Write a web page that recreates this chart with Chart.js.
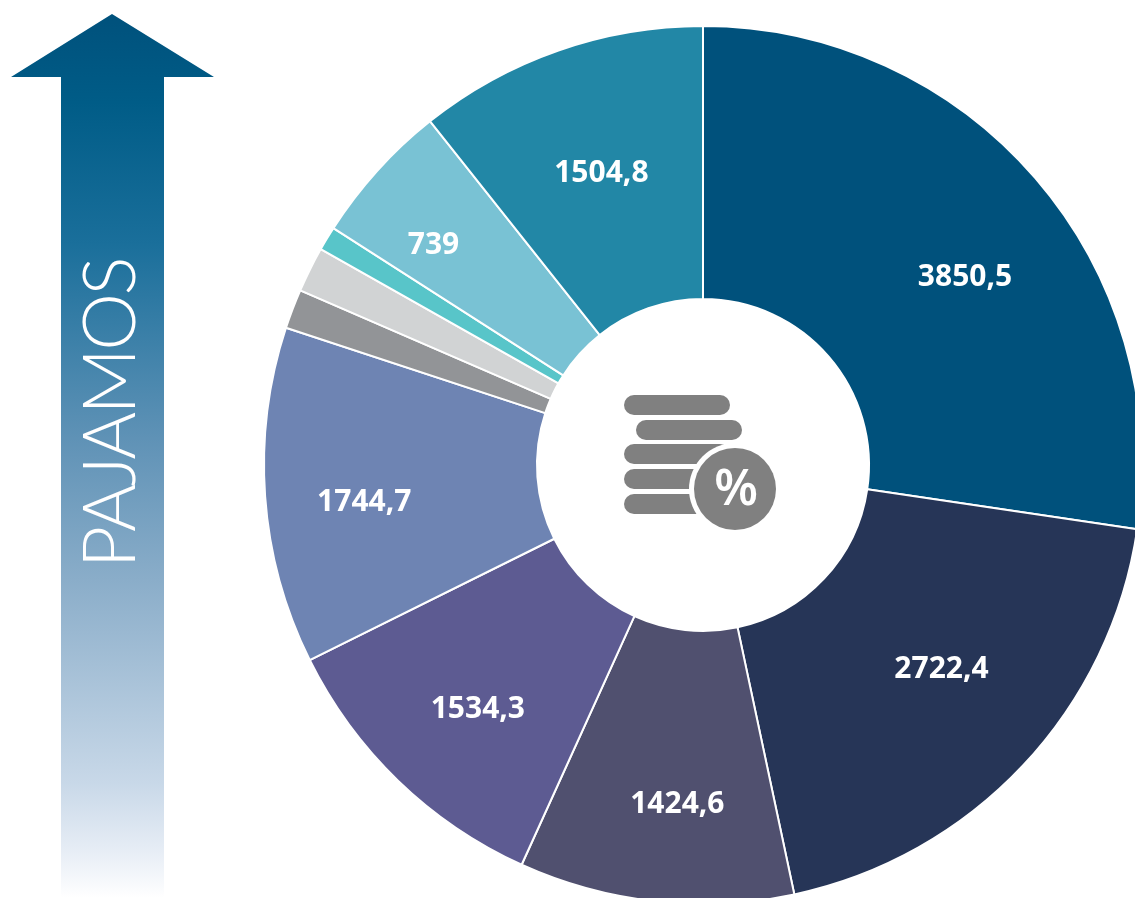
<!DOCTYPE html>
<html lang="lt">
<head>
<meta charset="utf-8">
<title>Pajamos</title>
<script src="https://cdn.jsdelivr.net/npm/chart.js@4/dist/chart.umd.min.js"></script>
<style>
  html, body { margin: 0; padding: 0; background: #fff; overflow: hidden; width: 1135px; height: 898px; }
  canvas { position: absolute; left: 0; top: 0; }
</style>
</head>
<body>
<!-- canvas is wider than the window on purpose: the ring is cut by the right and bottom edges -->
<canvas id="myChart" width="1406" height="930"></canvas>
<script>
const sliceNames = ['a', 'b', 'c', 'd', 'e', 'f', 'g', 'h', 'i', 'j'];
// the three unlabelled slices are estimated from their angle
const sliceValues = [3850.5, 2722.4, 1424.6, 1534.3, 1744.7, 205, 235, 125, 739, 1504.8];
const sliceLabels = ['3850,5', '2722,4', '1424,6', '1534,3', '1744,7', '', '', '', '739', '1504,8'];
const sliceColors = ['#00517c', '#263557', '#50506f', '#5d5b92', '#6e84b3', '#929497', '#d1d3d4', '#58c5c9', '#79c2d4', '#2287a6'];
// how far each label sits from the middle of its slice
const labelShiftX = [33, 18, 7, -15, -37, 0, 0, 0, -45, -2];
const labelShiftY = [10, -3, 39, 27, 16, 0, 0, 0, -17, -6];
const axisTitle = 'PAJAMOS';

// arrow on the left and its title
const arrowPlugin = {
  id: 'arrow',
  beforeDraw(chart) {
    const ctx = chart.ctx;
    const grad = ctx.createLinearGradient(0, 14, 0, 898);
    grad.addColorStop(0, '#00517c');
    grad.addColorStop(0.1, '#005c87');
    grad.addColorStop(0.26, '#1a6f9b');
    grad.addColorStop(0.48, '#5f92b6');
    grad.addColorStop(0.64, '#8aadc9');
    grad.addColorStop(0.87, '#c8d8e8');
    grad.addColorStop(0.95, '#e8eef6');
    grad.addColorStop(1, '#ffffff');
    ctx.save();
    ctx.fillStyle = grad;
    ctx.beginPath();
    ctx.moveTo(112, 14);
    ctx.lineTo(214, 77);
    ctx.lineTo(164, 77);
    ctx.lineTo(164, 898);
    ctx.lineTo(61, 898);
    ctx.lineTo(61, 77);
    ctx.lineTo(11, 77);
    ctx.closePath();
    ctx.fill();

    ctx.translate(135, 568);
    ctx.rotate(-Math.PI / 2);
    ctx.fillStyle = '#fff';
    ctx.font = '300 73px Lato';
    ctx.letterSpacing = '-2.6px';
    ctx.textAlign = 'left';
    ctx.textBaseline = 'alphabetic';
    ctx.fillText(axisTitle, 0, 0);
    ctx.restore();
  }
};

// values on the slices and the coins in the hole
const labelPlugin = {
  id: 'labels',
  afterDatasetsDraw(chart) {
    const ctx = chart.ctx;
    const arcs = chart.getDatasetMeta(0).data;
    ctx.save();
    ctx.fillStyle = '#fff';
    ctx.font = 'bold 30px "Noto Sans"';
    ctx.textAlign = 'center';
    ctx.textBaseline = 'middle';
    arcs.forEach((arc, i) => {
      if (!sliceLabels[i]) return;
      const p = arc.getCenterPoint();
      ctx.fillText(sliceLabels[i], p.x + labelShiftX[i], p.y + labelShiftY[i]);
    });

    ctx.fillStyle = '#808080';
    [[624, 395], [636, 420], [624, 444], [624, 469], [624, 494]].forEach(([x, y]) => {
      ctx.beginPath();
      ctx.roundRect(x, y, 106, 20, 10);
      ctx.fill();
    });
    ctx.fillStyle = '#fff';
    ctx.beginPath();
    ctx.arc(735, 489, 46, 0, Math.PI * 2);
    ctx.fill();
    ctx.fillStyle = '#808080';
    ctx.beginPath();
    ctx.arc(735, 489, 41, 0, Math.PI * 2);
    ctx.fill();
    ctx.fillStyle = '#fff';
    ctx.font = '600 50px "Noto Sans"';
    ctx.fillText('%', 736, 491);
    ctx.restore();
  }
};

new Chart(document.getElementById('myChart'), {
  type: 'doughnut',
  data: {
    labels: sliceNames,
    datasets: [{
      data: sliceValues,
      backgroundColor: sliceColors,
      borderColor: '#fff',
      borderWidth: 2
    }]
  },
  options: {
    responsive: false,
    animation: false,
    cutout: 166,
    layout: { padding: 25 },
    plugins: { legend: { display: false }, tooltip: { enabled: false } }
  },
  plugins: [arrowPlugin, labelPlugin]
});
</script>
</body>
</html>
